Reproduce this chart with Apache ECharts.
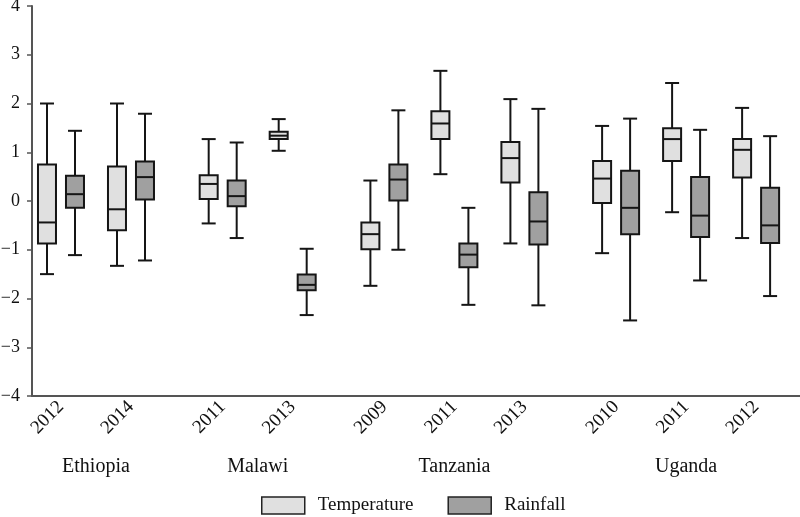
<!DOCTYPE html>
<html>
<head>
<meta charset="utf-8">
<script src="https://cdn.jsdelivr.net/npm/echarts@6/dist/echarts.min.js"></script>
<style>html,body{margin:0;padding:0;background:#fff}#c{width:800px;height:517px}</style>
</head>
<body>
<div id="c"></div>
<script>
// ---- data ----
const countries = ['Ethiopia', 'Malawi', 'Tanzania', 'Uganda'];
const years = ['2012', '2014', '2011', '2013', '2009', '2011', '2013', '2010', '2011', '2012'];
const countryOfYear = [0, 0, 1, 1, 2, 2, 2, 3, 3, 3];
// [min, Q1, median, Q3, max]
const temperature = [
  [-1.50, -0.87, -0.44, 0.75, 2.00],
  [-1.33, -0.60, -0.17, 0.71, 2.00],
  [-0.46, 0.04, 0.35, 0.53, 1.27],
  [1.03, 1.27, 1.34, 1.42, 1.68],
  [-1.74, -0.99, -0.68, -0.44, 0.42],
  [0.55, 1.27, 1.59, 1.84, 2.67],
  [-0.87, 0.38, 0.88, 1.21, 2.09],
  [-1.07, -0.04, 0.46, 0.82, 1.54],
  [-0.23, 0.82, 1.27, 1.49, 2.42],
  [-0.76, 0.48, 1.05, 1.27, 1.91]
];
const rainfall = [
  [-1.11, -0.14, 0.14, 0.52, 1.44],
  [-1.22, 0.03, 0.49, 0.81, 1.79],
  [-0.76, -0.11, 0.10, 0.42, 1.20],
  [-2.34, -1.83, -1.72, -1.51, -0.98],
  [-1.00, 0.01, 0.44, 0.75, 1.86],
  [-2.13, -1.36, -1.10, -0.87, -0.14],
  [-2.14, -0.89, -0.42, 0.18, 1.89],
  [-2.45, -0.68, -0.14, 0.62, 1.69],
  [-1.63, -0.74, -0.30, 0.49, 1.46],
  [-1.95, -0.86, -0.50, 0.27, 1.33]
];
const yTicks = [-4, -3, -2, -1, 0, 1, 2, 3, 4];

// ---- layout helpers (category slots with an extra gap between countries) ----
const countryGap = 0.31;
const slotPos = years.map((y, i) => i + countryOfYear[i] * countryGap);
const countryPos = countries.map((c, ci) => {
  const ps = slotPos.filter((p, i) => countryOfYear[i] === ci);
  return (ps[0] + ps[ps.length - 1]) / 2;
});

const FONT = '"Liberation Serif", "Times New Roman", serif';
const seriesStyle = [
  { name: 'Temperature', fill: '#e0e0e0', offset: -14 },
  { name: 'Rainfall', fill: '#a0a0a0', offset: 14 }
];
const BOX_W = 18, CAP_W = 14, LW = 2, STROKE = '#151515';

function renderBox(params, api) {
  const st = seriesStyle[params.seriesIndex];
  const x = api.value(0);
  const pMin = api.coord([x, api.value(1)]);
  const pQ1 = api.coord([x, api.value(2)]);
  const pMed = api.coord([x, api.value(3)]);
  const pQ3 = api.coord([x, api.value(4)]);
  const pMax = api.coord([x, api.value(5)]);
  const cx = pMin[0] + st.offset;
  const ls = { stroke: STROKE, lineWidth: LW };
  return {
    type: 'group',
    children: [
      { type: 'line', shape: { x1: cx, y1: pQ3[1], x2: cx, y2: pMax[1] }, style: ls },
      { type: 'line', shape: { x1: cx, y1: pQ1[1], x2: cx, y2: pMin[1] }, style: ls },
      { type: 'line', shape: { x1: cx - CAP_W / 2, y1: pMax[1], x2: cx + CAP_W / 2, y2: pMax[1] }, style: ls },
      { type: 'line', shape: { x1: cx - CAP_W / 2, y1: pMin[1], x2: cx + CAP_W / 2, y2: pMin[1] }, style: ls },
      { type: 'rect', shape: { x: cx - BOX_W / 2, y: pQ3[1], width: BOX_W, height: pQ1[1] - pQ3[1] },
        style: { fill: st.fill, stroke: STROKE, lineWidth: LW } },
      { type: 'line', shape: { x1: cx - BOX_W / 2, y1: pMed[1], x2: cx + BOX_W / 2, y2: pMed[1] }, style: ls }
    ]
  };
}

function toSeriesData(arr) {
  return arr.map((v, i) => [slotPos[i]].concat(v));
}

const chart = echarts.init(document.getElementById('c'), null, { renderer: 'canvas' });
chart.setOption({
  animation: false,
  backgroundColor: '#fff',
  grid: { left: 32, right: 0, top: 6, bottom: 121, containLabel: false, outerBoundsMode: 'none' },
  legend: {
    left: 256, top: 491,
    itemWidth: 43, itemHeight: 17, itemGap: 34,
    icon: 'rect',
    textStyle: { fontFamily: FONT, fontSize: 19, color: '#111', padding: [0, 0, 0, 8] },
    data: seriesStyle.map(s => ({ name: s.name, icon: 'rect',
      itemStyle: { color: s.fill, borderColor: '#222', borderWidth: 1.5 } }))
  },
  xAxis: [
    {
      type: 'value', position: 'bottom',
      min: -0.414, max: 10.557,
      splitLine: { show: false },
      axisLine: { show: true, onZero: false, lineStyle: { color: '#555', width: 2 } },
      axisTick: { show: false },
      axisLabel: {
        customValues: slotPos, rotate: 45, margin: 8,
        fontFamily: FONT, fontSize: 19, color: '#111',
        formatter: (v) => { const i = slotPos.findIndex(p => Math.abs(p - v) < 1e-6); return i >= 0 ? years[i] : ''; }
      }
    },
    {
      type: 'value', position: 'bottom',
      min: -0.414, max: 10.557,
      splitLine: { show: false },
      axisLine: { show: false, onZero: false },
      axisTick: { show: false },
      axisLabel: {
        customValues: countryPos, margin: 61,
        fontFamily: FONT, fontSize: 20, color: '#111',
        formatter: (v) => { const i = countryPos.findIndex(p => Math.abs(p - v) < 1e-6); return i >= 0 ? countries[i] : ''; }
      }
    }
  ],
  yAxis: {
    type: 'value', min: yTicks[0], max: yTicks[yTicks.length - 1], interval: 1,
    splitLine: { show: false },
    axisLine: { show: true, onZero: false, lineStyle: { color: '#555', width: 2 } },
    axisTick: { show: true, length: 5, lineStyle: { color: '#555', width: 1.5 } },
    axisLabel: {
      margin: 12, fontFamily: FONT, fontSize: 18, color: '#111',
      formatter: (v) => String(v).replace('-', '\u2212')
    }
  },
  series: seriesStyle.map((s, k) => ({
    type: 'custom',
    name: s.name,
    xAxisIndex: 0,
    itemStyle: { color: s.fill, borderColor: '#222' },
    encode: { x: 0, y: [1, 2, 3, 4, 5] },
    renderItem: renderBox,
    data: toSeriesData(k === 0 ? temperature : rainfall)
  }))
});
</script>
</body>
</html>
